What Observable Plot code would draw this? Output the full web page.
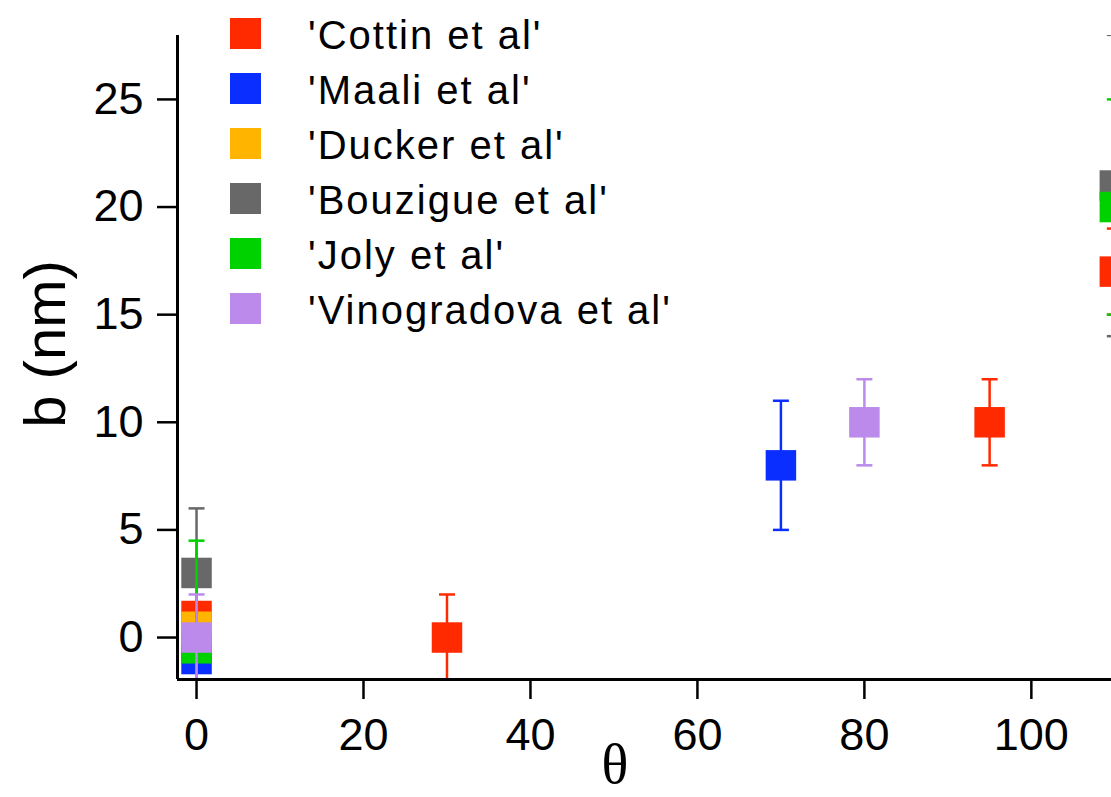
<!DOCTYPE html>
<html><head><meta charset="utf-8">
<script src="https://cdn.jsdelivr.net/npm/d3@7"></script>
<script src="https://cdn.jsdelivr.net/npm/@observablehq/plot@0.6"></script>
<style>html,body{margin:0;padding:0;background:#fff;overflow:hidden}</style>
</head><body><div id="chart"></div>
<script>
// ---- data ----
const seriesNames = ["'Cottin et al'", "'Maali et al'", "'Ducker et al'", "'Bouzigue et al'", "'Joly et al'", "'Vinogradova et al'"];
const seriesColors = ["#ff2a00", "#0a2eff", "#ffb400", "#686868", "#00d200", "#bb8aea"];

const cottinTheta = [0, 30, 95, 110];
const cottinB     = [1, 0, 10, 17];
const cottinErr   = [null, 2, 2, 2];

const maaliTheta = [0, 70];
const maaliB     = [-1, 8];
const maaliErr   = [null, 3];

const duckerTheta = [0];
const duckerB     = [0.5];
const duckerErr   = [null];

const bouzigueTheta = [0, 110];
const bouzigueB     = [3, 21];
const bouzigueErr   = [3, 7];

const jolyTheta = [0, 110];
const jolyB     = [-0.5, 20];
const jolyErr   = [5, 5];

const vinoTheta = [0, 80];
const vinoB     = [0, 10];
const vinoErr   = [2, 2];

const xTicks = [0, 20, 40, 60, 80, 100];
const yTicks = [0, 5, 10, 15, 20, 25];
const xLabel = "θ";
const yLabel = "b (nm)";

// ---- build table ----
const raw = [
  [cottinTheta, cottinB, cottinErr],
  [maaliTheta, maaliB, maaliErr],
  [duckerTheta, duckerB, duckerErr],
  [bouzigueTheta, bouzigueB, bouzigueErr],
  [jolyTheta, jolyB, jolyErr],
  [vinoTheta, vinoB, vinoErr]
];
const tables = raw.map(([t, b, e], i) => t.map((v, j) => ({series: seriesNames[i], theta: v, b: b[j], err: e[j]})));

const xDomain = [-2.28, 109.6];
const yDomain = [-1.95, 27.97];

const capSymbol = {draw(ctx, size) { const w = Math.sqrt(size); ctx.moveTo(-w / 2, 0); ctx.lineTo(w / 2, 0); }};
const capR = 16 / Math.sqrt(Math.PI);
const squareR = 30.5 / Math.sqrt(Math.PI);

const marks = [];
tables.forEach((rows, i) => {
  const c = seriesColors[i];
  const withErr = rows.filter(d => d.err != null);
  marks.push(Plot.ruleX(withErr, {x: "theta", y1: d => d.b - d.err, y2: d => d.b + d.err, stroke: c, strokeWidth: 2.5, clip: true}));
  marks.push(Plot.dot(withErr, {x: "theta", y: d => d.b + d.err, symbol: capSymbol, r: capR, stroke: c, strokeWidth: 2.5, clip: true}));
  marks.push(Plot.dot(withErr, {x: "theta", y: d => d.b - d.err, symbol: capSymbol, r: capR, stroke: c, strokeWidth: 2.5, clip: true}));
  marks.push(Plot.dot(rows, {x: "theta", y: "b", symbol: "square", r: squareR, fill: c, stroke: "none", clip: true}));
});

marks.push(Plot.axisX({ticks: xTicks, tickSize: 20, tickPadding: 19, fontSize: 45, strokeWidth: 2.5, label: null, tickFormat: d3.format("d")}));
marks.push(Plot.axisY({ticks: yTicks, tickSize: 20, tickPadding: 14, fontSize: 45, strokeWidth: 2.5, label: null, tickFormat: d3.format("d")}));
marks.push(Plot.ruleX([xDomain[0]], {stroke: "black", strokeWidth: 3}));
marks.push(Plot.ruleY([yDomain[0]], {stroke: "black", strokeWidth: 3}));

const svg = Plot.plot({
  width: 1111,
  height: 797,
  marginLeft: 177,
  marginRight: 0,
  marginTop: 35,
  marginBottom: 118,
  x: {domain: xDomain},
  y: {domain: yDomain},
  style: {fontFamily: "'Liberation Sans', Arial, sans-serif", background: "white", color: "black", overflow: "visible"},
  marks
});
document.getElementById("chart").appendChild(svg);

// axis titles
const s = d3.select(svg);
s.append("text")
  .attr("transform", "translate(65,344) rotate(-90)")
  .attr("text-anchor", "middle")
  .attr("font-family", "'Liberation Sans', Arial, sans-serif")
  .attr("font-size", 58)
  .attr("fill", "black")
  .text(yLabel);
s.append("text")
  .attr("x", 615).attr("y", 783)
  .attr("text-anchor", "middle")
  .attr("font-family", "'Liberation Serif', 'Times New Roman', serif")
  .attr("font-size", 56)
  .attr("fill", "black")
  .text(xLabel);

// legend
const lg = s.append("g").attr("text-anchor", "start");
seriesNames.forEach((name, i) => {
  const cy = 33.5 + 55 * i;
  lg.append("rect").attr("x", 230).attr("y", cy - 15.5).attr("width", 31).attr("height", 31).attr("fill", seriesColors[i]);
  lg.append("text").attr("x", 308).attr("y", cy + 15)
    .attr("text-anchor", "start")
    .attr("font-family", "'Liberation Sans', Arial, sans-serif")
    .attr("font-size", 40)
    .attr("letter-spacing", "2px")
    .attr("fill", "black")
    .text(name);
});
</script>
</body></html>
